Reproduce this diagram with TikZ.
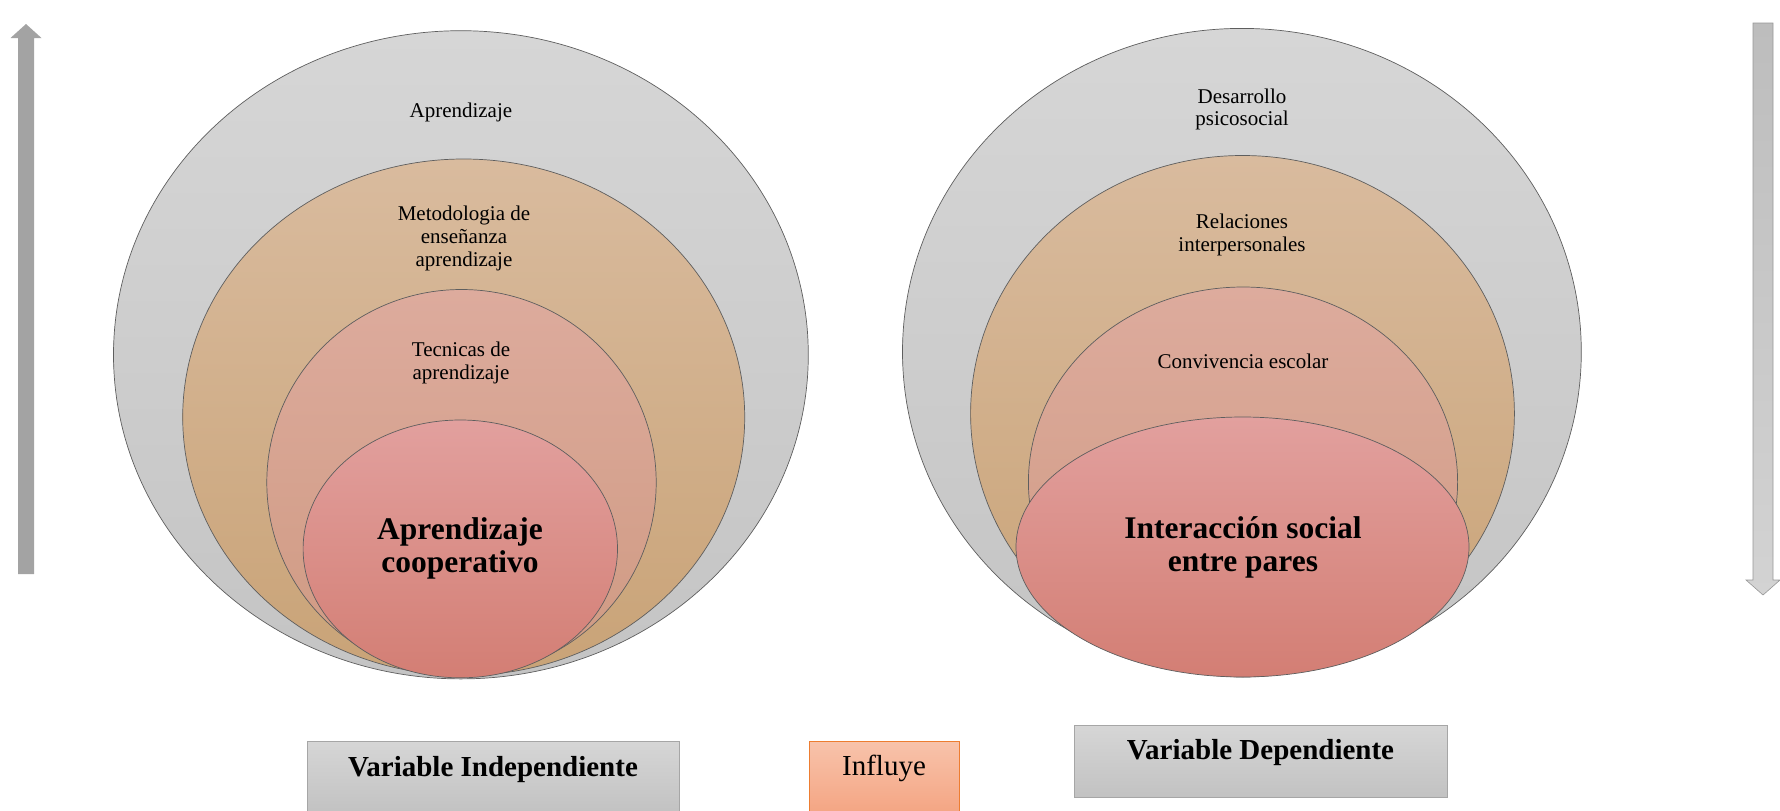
\documentclass[tikz,border=0pt]{standalone}
\usepackage{fontspec}
\setmainfont{Liberation Serif}
\usetikzlibrary{shapes.geometric}
\definecolor{ringline}{HTML}{5E5E5E}
\definecolor{grayA}{HTML}{D6D6D6}
\definecolor{grayB}{HTML}{C4C4C4}
\definecolor{tanA}{HTML}{D9BB9E}
\definecolor{tanB}{HTML}{C9A377}
\definecolor{pinkA}{HTML}{DDAB9D}
\definecolor{pinkB}{HTML}{CF9A82}
\definecolor{redA}{HTML}{E2A09E}
\definecolor{redB}{HTML}{D37E74}
\definecolor{boxA}{HTML}{D6D6D6}
\definecolor{boxB}{HTML}{C2C2C2}
\definecolor{boxline}{HTML}{A6A6A6}
\definecolor{orA}{HTML}{F8C3AB}
\definecolor{orB}{HTML}{F4A583}
\definecolor{orline}{HTML}{ED7D31}
\definecolor{arrowL}{HTML}{A3A3A3}
\definecolor{arrowRA}{HTML}{BDBDBD}
\definecolor{arrowRB}{HTML}{D3D3D3}
\begin{document}
\begin{tikzpicture}[x=1pt,y=-1pt,
  ring/.style={ellipse, draw=ringline, line width=0.7pt, inner sep=0pt, outer sep=0pt},
  grayring/.style={ring, top color=grayA, bottom color=grayB},
  tanring/.style={ring, top color=tanA, bottom color=tanB},
  pinkring/.style={ring, top color=pinkA, bottom color=pinkB},
  redring/.style={ring, top color=redA, bottom color=redB},
  smalltxt/.style={align=center, inner sep=0pt, font=\fontsize{21}{22.7}\selectfont},
  bigtxt/.style={align=center, inner sep=0pt, font=\fontsize{31.5}{33}\selectfont\bfseries},
  varbox/.style={draw=boxline, line width=1pt, top color=boxA, bottom color=boxB, inner sep=0pt},
  orbox/.style={draw=orline, line width=1pt, top color=orA, bottom color=orB, inner sep=0pt},
  boxtxt/.style={inner sep=0pt, font=\fontsize{29}{32}\selectfont}
]
\useasboundingbox (0,0) rectangle (1780,811);

% left arrow (up)
\fill[arrowL] (18,574) -- (18,38) -- (10.5,38) -- (26,24) -- (41.5,38) -- (34,38) -- (34,574) -- cycle;
% right arrow (down)
\shade[top color=arrowRA, bottom color=arrowRB, draw=arrowRA!80!black, line width=0.6pt]
  (1753,23) -- (1773,23) -- (1773,580) -- (1780,580) -- (1763,595) -- (1746,580) -- (1753,580) -- cycle;

% left group
\node[grayring, minimum width=694.8pt, minimum height=648.2pt] (lout) at (460.9,354.8) {};
\node[tanring, minimum width=562pt, minimum height=516.4pt] (ltan) at (463.7,417.2) {};
\node[pinkring, minimum width=389.4pt, minimum height=386pt] (lpink) at (461.5,482.5) {};
\node[redring, minimum width=314.4pt, minimum height=257.8pt] (lred) at (460.3,548.9) {};

\node[smalltxt] (tA) at (460.9,112.4) {Aprendizaje};
\node[smalltxt] (tM) at (464,238.4) {Metodologia de\\enseñanza\\aprendizaje};
\node[smalltxt] (tT) at (461,363) {Tecnicas de\\aprendizaje};
\node[bigtxt] (tC) at (460,548) {Aprendizaje\\cooperativo};

% right group
\node[grayring, minimum width=678.8pt, minimum height=647pt] (rout) at (1241.9,351.9) {};
\node[tanring, minimum width=543.8pt, minimum height=516pt] (rtan) at (1242.5,413.5) {};
\node[pinkring, minimum width=429.2pt, minimum height=390pt] (rpink) at (1243,482) {};
\node[redring, minimum width=453pt, minimum height=260pt] (rred) at (1242.5,547) {};

\node[smalltxt] (tD) at (1242,109.5) {Desarrollo\\psicosocial};
\node[smalltxt] (tR) at (1242,235) {Relaciones\\interpersonales};
\node[smalltxt] (tV) at (1243,361) {Convivencia escolar};
\node[bigtxt] (tI) at (1243,547) {Interacción social\\entre pares};

% bottom boxes
\node[varbox, minimum width=372pt, minimum height=72pt] (bI) at (493,777) {};
\node[boxtxt, font=\fontsize{29}{32}\selectfont\bfseries] (bIt) at (493,770) {Variable Independiente};
\node[orbox, minimum width=150pt, minimum height=72pt] (bF) at (884,777) {};
\node[boxtxt] (bFt) at (884,768) {Influye};
\node[varbox, minimum width=373pt, minimum height=72pt] (bD) at (1260.5,761) {};
\node[boxtxt, font=\fontsize{29}{32}\selectfont\bfseries] (bDt) at (1260.5,753) {Variable Dependiente};
\end{tikzpicture}
\end{document}
